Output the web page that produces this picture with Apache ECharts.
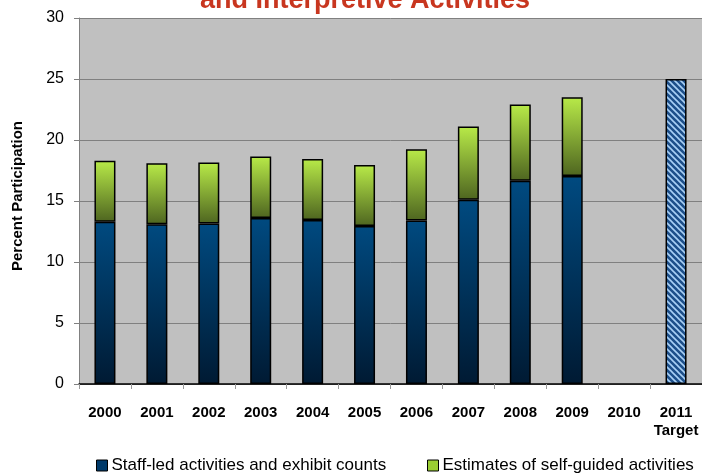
<!DOCTYPE html>
<html><head><meta charset="utf-8">
<script src="https://cdn.jsdelivr.net/npm/echarts@6/dist/echarts.min.js"></script>
<style>html,body{margin:0;padding:0;background:#fff}#c{width:702px;height:473px}</style>
</head><body><div id="c"></div>
<script>
const categories = ['2000','2001','2002','2003','2004','2005','2006','2007','2008','2009','2010','2011\nTarget'];
const staffLed = [13.3,13.1,13.15,13.6,13.45,12.95,13.4,15.1,16.65,17.05,null,null];
const selfGuided = [5.0,5.0,5.0,5.05,5.0,5.0,5.85,6.0,6.25,6.45,null,null];
const target = [null,null,null,null,null,null,null,null,null,null,null,25];
const yTicks = [0,5,10,15,20,25,30];
const seriesNames = ['Staff-led activities and exhibit counts','Estimates of self-guided activities'];

const pc = document.createElement('canvas');
pc.width = 6; pc.height = 6;
const g = pc.getContext('2d');
g.fillStyle = '#1d4f8a'; g.fillRect(0,0,6,6);
g.strokeStyle = '#a9d0f5'; g.lineWidth = 1.6;
for (let k=-2;k<=2;k++){ g.beginPath(); g.moveTo(k*6-1,-1); g.lineTo(k*6+7,7); g.stroke(); }

const legendText = {fontSize:17, fontFamily:'Liberation Sans', color:'#000', padding:[0,0,0,-1]};
const chart = echarts.init(document.getElementById('c'), null, {renderer:'canvas'});
chart.setOption({
  animation:false,
  title:{text:'and Interpretive Activities', left:360, textAlign:'center', top:-18,
    textStyle:{color:'#c8361f', fontSize:27, fontWeight:'bold', fontFamily:'Liberation Sans'}},
  grid:{left:79, top:18, width:626, bottom:89, show:true, backgroundColor:'#c0c0c0', borderWidth:0},
  legend:[
    {left:96, top:457, padding:0, itemWidth:11, itemHeight:11, icon:'rect', textStyle:legendText,
      data:[{name:seriesNames[0], itemStyle:{color:'#003a6a', borderColor:'#000', borderWidth:1}}]},
    {left:427, top:457, padding:0, itemWidth:11, itemHeight:11, icon:'rect', textStyle:legendText,
      data:[{name:seriesNames[1], itemStyle:{color:'#9acd32', borderColor:'#000', borderWidth:1}}]}
  ],
  xAxis:{type:'category', data:categories,
    axisLine:{lineStyle:{color:'#000', width:1.5}},
    axisTick:{show:true, length:5, lineStyle:{color:'#999'}},
    axisLabel:{fontSize:15, fontWeight:'bold', color:'#000', fontFamily:'Liberation Sans', margin:20, lineHeight:18, interval:0}},
  yAxis:{type:'value', min:yTicks[0], max:yTicks[yTicks.length-1], interval:5,
    name:'Percent Participation', nameLocation:'middle', nameGap:54,
    nameTextStyle:{fontSize:15, fontWeight:'bold', color:'#000', fontFamily:'Liberation Sans', padding:[0,0,0,10]},
    axisLine:{show:true, lineStyle:{color:'#808080'}},
    axisTick:{show:true, length:5, lineStyle:{color:'#808080'}},
    axisLabel:{fontSize:16, color:'#000', fontFamily:'Liberation Sans', margin:15},
    splitLine:{lineStyle:{color:'#808080', width:1}}},
  series:[
    {name:seriesNames[0], type:'bar', stack:'a', data:staffLed, barWidth:21,
      itemStyle:{borderColor:'#000', borderWidth:1.5,
        color:new echarts.graphic.LinearGradient(0,0,0,1,[{offset:0,color:'#004a80'},{offset:1,color:'#001a33'}])}},
    {name:seriesNames[1], type:'bar', stack:'a', data:selfGuided, barWidth:21,
      itemStyle:{borderColor:'#000', borderWidth:1.5,
        color:new echarts.graphic.LinearGradient(0,0,0,1,[{offset:0,color:'#b8ea48'},{offset:1,color:'#4e6520'}])}},
    {name:'Target', type:'bar', stack:'a', data:target, barWidth:21,
      itemStyle:{borderColor:'#000', borderWidth:1.5, color:{image:pc, repeat:'repeat'}}}
  ]
});
</script></body></html>
